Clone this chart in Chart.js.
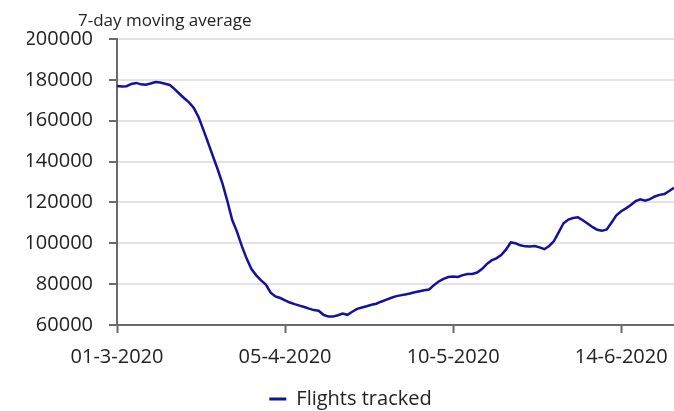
<!DOCTYPE html>
<html>
<head>
<meta charset="utf-8">
<script src="https://cdn.jsdelivr.net/npm/chart.js@4"></script>
<style>
  html, body { margin: 0; padding: 0; background: #ffffff; }
  #wrap { width: 674px; height: 411px; position: relative; }
</style>
</head>
<body>
<div id="wrap"><canvas id="c" width="674" height="411"></canvas></div>
<script>
// ---- data ----
const startDate = '01-3-2020';
const seriesName = 'Flights tracked';
const axisCaption = '7-day moving average';
// daily 7-day moving average, one value per day from 01-3-2020
const flights = [
  177000,176700,176900,178000,178500,177800,177600,178200,178900,178700,
  178100,177500,175500,173200,171000,169000,166200,161700,155500,149000,
  142500,136000,129000,120500,111400,105600,98600,92500,87400,84300,
  81800,79800,75800,74000,73200,72100,71000,70200,69500,68800,
  68000,67300,67000,65000,64100,64100,64800,65600,65000,66500,
  67900,68600,69200,69900,70400,71400,72300,73200,74000,74500,
  74900,75400,76000,76500,77000,77400,79500,81300,82600,83500,
  83700,83500,84400,85000,85000,85700,87400,89800,91600,92600,
  94200,96900,100400,100000,99000,98500,98400,98700,98000,97100,
  98700,101100,105500,109800,111600,112400,112700,111300,109700,108000,
  106600,106100,106800,110200,113700,115700,117100,118700,120600,121500,
  120900,121600,122900,123700,124100,125600,127200
];
const tickDays = [0, 35, 70, 105];
const tickLabels = ['01-3-2020', '05-4-2020', '10-5-2020', '14-6-2020'];
const yTicks = [60000, 80000, 100000, 120000, 140000, 160000, 180000, 200000];

// ---- styles ----
const FONT = "'Open Sans', 'Noto Sans', sans-serif";
const TEXT = '#222222';
const LINE = '#12129a';
const AXIS = '#6a6a6a';
const GRID = '#e3e3e3';

const points = flights.map((v, i) => ({ x: i, y: v }));

const captionPlugin = {
  id: 'caption',
  afterDraw(chart) {
    const ctx = chart.ctx;
    ctx.save();
    ctx.font = "17px " + FONT;
    ctx.fillStyle = TEXT;
    ctx.textAlign = 'left';
    ctx.textBaseline = 'alphabetic';
    ctx.fillText(axisCaption, 78, 26);
    ctx.restore();
  }
};

new Chart(document.getElementById('c'), {
  type: 'line',
  data: {
    datasets: [{
      label: seriesName,
      data: points,
      borderColor: LINE,
      backgroundColor: LINE,
      borderWidth: 2.5,
      pointRadius: 0,
      tension: 0,
      fill: false
    }]
  },
  options: {
    responsive: false,
    animation: false,
    layout: { padding: { top: 39, left: 27, right: 0, bottom: -8 } },
    plugins: {
      title: { display: false },
      tooltip: { enabled: false },
      legend: {
        display: true,
        position: 'bottom',
        labels: {
          font: { family: FONT, size: 20 },
          color: TEXT,
          boxWidth: 17,
          boxHeight: 3,
          padding: 10,
          generateLabels(chart) {
            const items = Chart.defaults.plugins.legend.labels.generateLabels(chart);
            items.forEach(it => { it.lineWidth = 0; it.fillStyle = LINE; it.strokeStyle = LINE; });
            return items;
          }
        }
      }
    },
    scales: {
      x: {
        type: 'linear',
        min: 0,
        max: flights.length - 1,
        afterFit(scale) {
          scale.height = 54;
          scale.paddingRight = 0;
          scale.paddingLeft = 0;
        },
        afterBuildTicks(scale) { scale.ticks = tickDays.map(v => ({ value: v })); },
        ticks: {
          autoSkip: false,
          maxRotation: 0,
          padding: 12,
          color: TEXT,
          font: { family: FONT, size: 20 },
          callback(value) {
            const i = tickDays.indexOf(value);
            return i >= 0 ? tickLabels[i] : '';
          }
        },
        grid: {
          drawOnChartArea: false,
          drawTicks: true,
          tickLength: 8,
          tickColor: AXIS,
          tickWidth: 2
        },
        border: { display: true, color: AXIS, width: 2 }
      },
      y: {
        type: 'linear',
        min: 60000,
        max: 200000,
        afterFit(scale) { scale.width = 90; },
        afterBuildTicks(scale) { scale.ticks = yTicks.map(v => ({ value: v })); },
        ticks: {
          padding: 16,
          color: TEXT,
          font: { family: FONT, size: 20 },
          callback(value) { return String(value); }
        },
        grid: {
          color: GRID,
          lineWidth: 2,
          drawTicks: true,
          tickLength: 8,
          tickColor: AXIS,
          tickWidth: 2
        },
        border: { display: true, color: AXIS, width: 2 }
      }
    }
  },
  plugins: [captionPlugin]
});
</script>
</body>
</html>
